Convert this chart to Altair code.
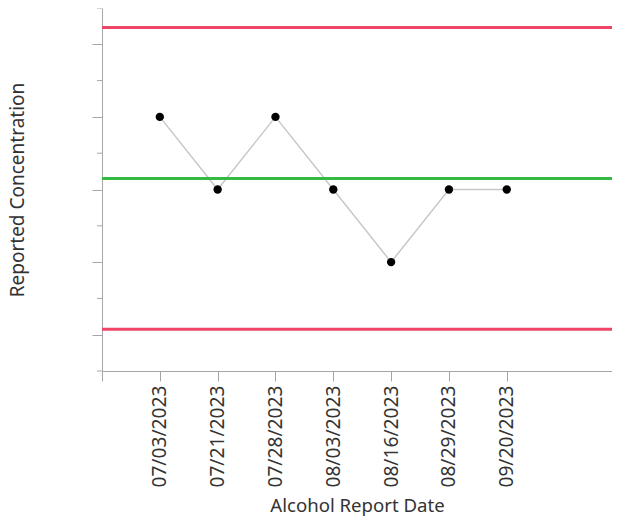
import altair as alt
import pandas as pd

dates = ["07/03/2023", "07/21/2023", "07/28/2023", "08/03/2023",
         "08/16/2023", "08/29/2023", "09/20/2023"]
values = [7, 5, 7, 5, 3, 5, 5]
center_line = 5.30
upper_limit = 9.46
lower_limit = 1.15
minor_ticks = [0, 2, 4, 6, 8, 10]
major_ticks = [1, 3, 5, 7, 9]

FONT = "Noto Sans"
AXIS_GRAY = "#a6a6a6"

df = pd.DataFrame({"idx": list(range(1, len(dates) + 1)), "date": dates, "value": values})
limits = pd.DataFrame({"level": [upper_limit, lower_limit]})
center_df = pd.DataFrame({"level": [center_line]})
minor_df = pd.DataFrame({"t": minor_ticks})

label_arr = "[''," + ",".join("'" + d + "'" for d in dates) + "]"

x_scale = alt.Scale(domain=[0, 8.82], nice=False, zero=False)
y_scale = alt.Scale(domain=[0, 10], nice=False)

x_axis = alt.Axis(
    title="Alcohol Report Date", values=list(range(0, len(dates) + 1)),
    labelExpr=label_arr + "[datum.value]", labelAngle=-90, labelAlign="right",
    labelBaseline="middle", labelPadding=4, tickSize=10, grid=False,
    domainColor=AXIS_GRAY, tickColor=AXIS_GRAY, labelColor="#333333",
    labelFont=FONT, labelFontSize=19.2, titleFont=FONT, titleFontSize=18.6,
    titleFontWeight="normal", titleColor="#333333", titlePadding=9,
    labelOverlap=False, labelFlush=False,
)
y_axis = alt.Axis(
    title="Reported Concentration", values=major_ticks, labels=False,
    tickSize=10, grid=False, domainColor=AXIS_GRAY, tickColor=AXIS_GRAY,
    titleFont=FONT, titleFontSize=19, titleFontWeight="normal",
    titleColor="#333333", titlePadding=64,
)

line = alt.Chart(df).mark_line(color="#c8c8c8", strokeWidth=1.5).encode(
    x=alt.X("idx:Q", scale=x_scale, axis=x_axis),
    y=alt.Y("value:Q", scale=y_scale, axis=y_axis),
)
red = alt.Chart(limits).mark_rule(color="#ee4466", strokeWidth=3).encode(
    y=alt.Y("level:Q", scale=y_scale)
)
green = alt.Chart(center_df).mark_rule(color="#33bb44", strokeWidth=3).encode(
    y=alt.Y("level:Q", scale=y_scale)
)
points = alt.Chart(df).mark_circle(color="black", opacity=1, size=70).encode(
    x=alt.X("idx:Q", scale=x_scale),
    y=alt.Y("value:Q", scale=y_scale),
)
minor = alt.Chart(minor_df).mark_rule(color=AXIS_GRAY, strokeWidth=1).encode(
    y=alt.Y("t:Q", scale=y_scale),
    x=alt.value(-5), x2=alt.value(0),
)

chart = alt.layer(line, red, green, points, minor).properties(
    width=510, height=363,
    autosize=alt.AutoSizeParams(type="none"),
    padding={"left": 94, "top": 0, "right": 0, "bottom": 145},
).configure_view(stroke=None, strokeWidth=0)

chart.save("out.html", embed_options={"renderer": "svg", "actions": False})
